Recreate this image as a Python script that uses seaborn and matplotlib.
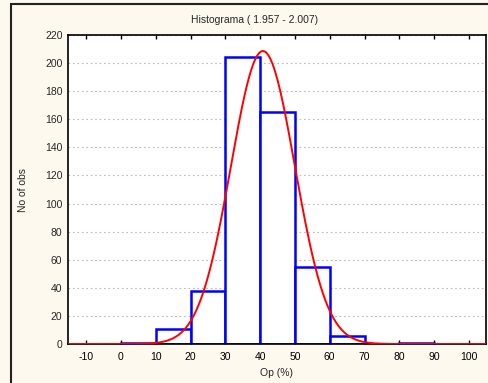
import numpy as np
import pandas as pd
import matplotlib
matplotlib.use("Agg")
import matplotlib.pyplot as plt
import seaborn as sns
from matplotlib.patches import Rectangle

# Data
bin_edges = [-10, 0, 10, 20, 30, 40, 50, 60, 70, 80, 90, 100]
counts = [0, 1, 11, 38, 204, 165, 55, 6, 0, 1, 0]
x_ticks = [-10, 0, 10, 20, 30, 40, 50, 60, 70, 80, 90, 100]
y_ticks = [0, 20, 40, 60, 80, 100, 120, 140, 160, 180, 200, 220]
# fitted normal parameters (estimated from the drawn curve)
fit_mean = 40.8
fit_sd = 9.2

title = "Histograma ( 1.957 - 2.007)"
xlabel = "Op (%)"
ylabel = "No of obs"

sns.set_style("white")
plt.rcParams['font.family'] = ['Liberation Sans', 'DejaVu Sans']

fig = plt.figure(figsize=(4.88, 3.83), dpi=100)
fig.patch.set_facecolor("#FDF9EE")
W, H = 488, 383
fig.add_artist(Rectangle((11 / W, -0.2), 1.2, 0.2 + (H - 4) / H, transform=fig.transFigure,
                         fill=False, edgecolor="#222222", linewidth=1.5))

ax = fig.add_axes([68 / W, 39 / H, (486 - 68) / W, (344 - 35) / H])
ax.set_facecolor("white")

centers = [(bin_edges[i] + bin_edges[i + 1]) / 2 for i in range(len(counts))]
df = pd.DataFrame({"x": centers, "w": counts})
sns.histplot(data=df, x="x", weights="w", bins=bin_edges, ax=ax,
             color="white", edgecolor="#0000FF", linewidth=1.8, alpha=1, zorder=2)

N = sum(counts)
xs = np.linspace(-15, 105, 600)
ys = N * 10 / (fit_sd * np.sqrt(2 * np.pi)) * np.exp(-0.5 * ((xs - fit_mean) / fit_sd) ** 2)
sns.lineplot(x=xs, y=ys, ax=ax, color="#FF0000", linewidth=1.4, zorder=3)

ax.set_xlim(-15.2, 104.9)
ax.set_ylim(0, 220)
ax.set_xticks(x_ticks)
ax.set_xticklabels([str(v) for v in x_ticks])
ax.set_yticks(y_ticks)
ax.set_yticklabels([str(v) for v in y_ticks])
ax.yaxis.grid(True, linestyle=(0, (1.5, 2.5)), color="#BBBBBB", linewidth=0.8)
ax.set_axisbelow(True)
ax.tick_params(axis="x", direction="in", length=3, width=1, top=True, bottom=True,
               labelsize=7.5, pad=6, colors="black")
ax.tick_params(axis="y", direction="in", length=0, labelsize=7.5, pad=4)
for s in ax.spines.values():
    s.set_color("black")
    s.set_linewidth(1.2)
    s.set_visible(True)

ax.set_xlabel(xlabel, fontsize=7.5, labelpad=4)
ax.set_ylabel(ylabel, fontsize=7.5, labelpad=12)
fig.text(255 / W, 1 - 20 / H, title, ha="center", va="center", fontsize=7.5)

fig.savefig("out.png", dpi=100, facecolor=fig.get_facecolor())
